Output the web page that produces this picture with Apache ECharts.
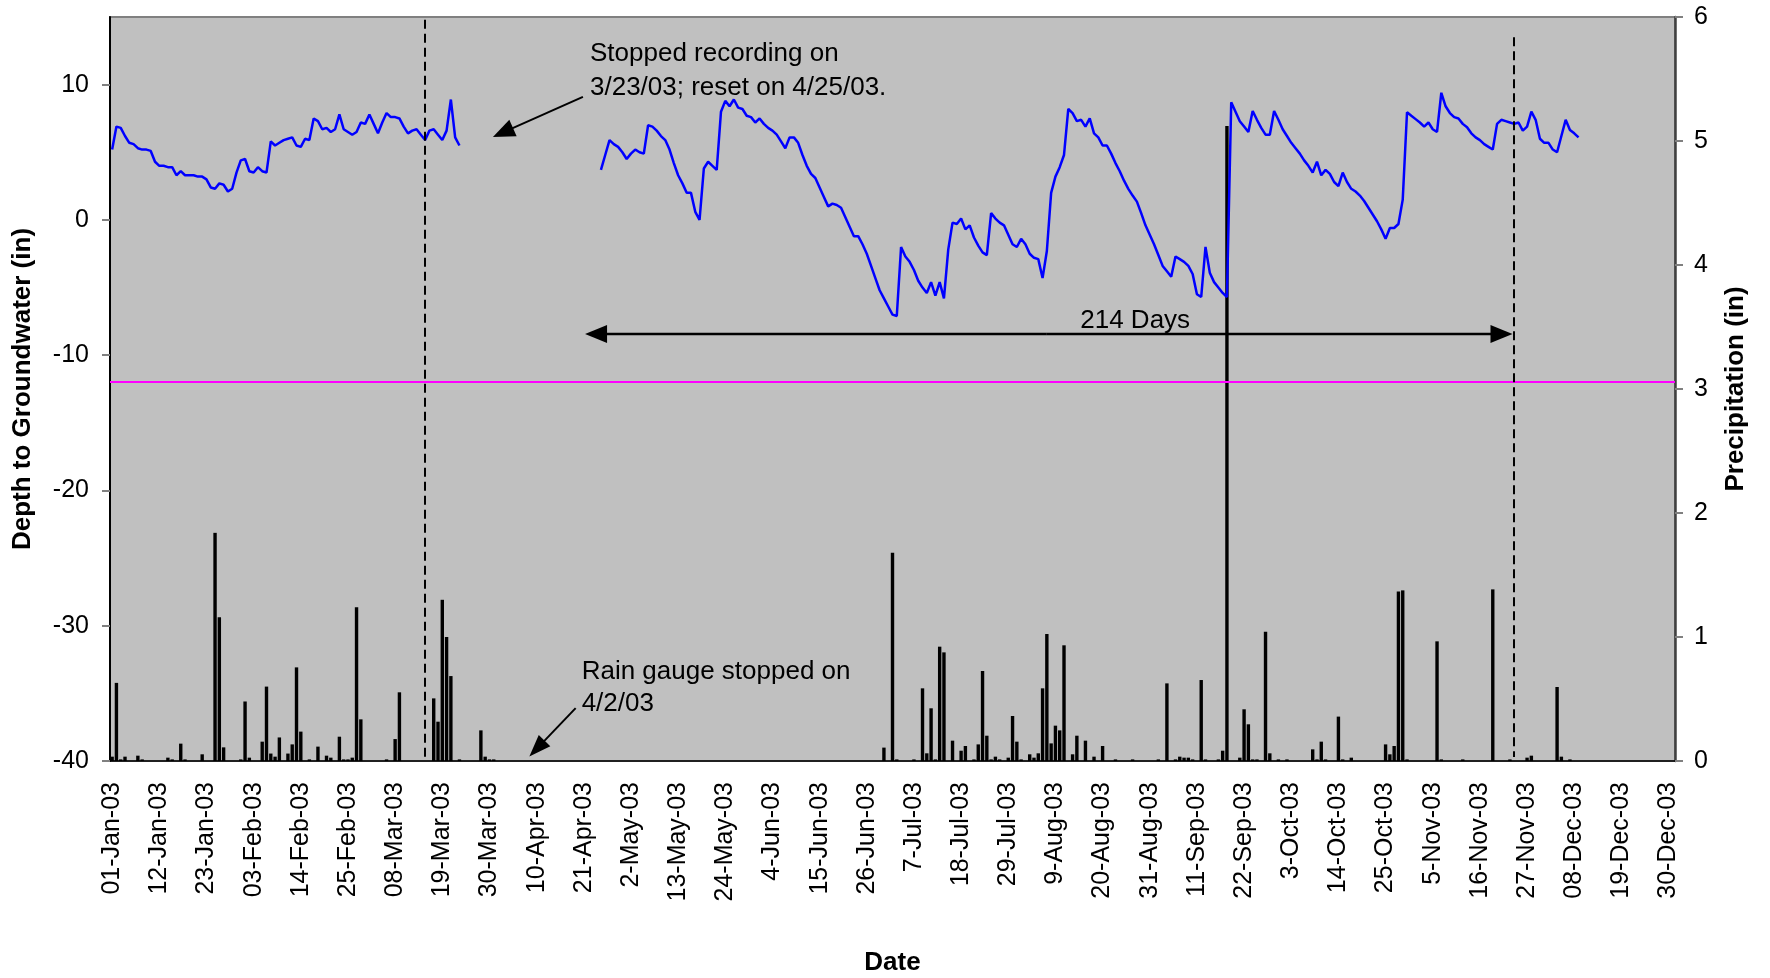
<!DOCTYPE html>
<html><head><meta charset="utf-8">
<script src="https://cdn.jsdelivr.net/npm/echarts@6/dist/echarts.min.js"></script>
<style>html,body{margin:0;padding:0;background:#fff}#c{width:1770px;height:978px}</style>
</head><body><div id="c"></div>
<script>
// ---------- DATA ----------
const monthNames = ['Jan','Feb','Mar','Apr','May','Jun','Jul','Aug','Sep','Oct','Nov','Dec'];
const monthDays = [31,28,31,30,31,30,31,31,30,31,30,31];
const tickLabels = ['01-Jan-03','12-Jan-03','23-Jan-03','03-Feb-03','14-Feb-03','25-Feb-03','08-Mar-03','19-Mar-03','30-Mar-03','10-Apr-03','21-Apr-03','2-May-03','13-May-03','24-May-03','4-Jun-03','15-Jun-03','26-Jun-03','7-Jul-03','18-Jul-03','29-Jul-03','9-Aug-03','20-Aug-03','31-Aug-03','11-Sep-03','22-Sep-03','3-Oct-03','14-Oct-03','25-Oct-03','5-Nov-03','16-Nov-03','27-Nov-03','08-Dec-03','19-Dec-03','30-Dec-03'];
const leftTicks = [-40,-30,-20,-10,0,10];

// groundwater depth, Jan 1 .. Mar 23 (day index 0..81)
const gwStart1 = 0;
const gw1 = [5.2,6.9,6.8,6.2,5.7,5.6,5.3,5.2,5.2,5.1,4.3,4.0,4.0,3.9,3.9,3.3,3.6,3.3,3.3,3.3,
  3.2,3.2,3.0,2.4,2.3,2.7,2.6,2.1,2.3,3.5,4.4,4.5,3.6,3.5,3.9,3.6,3.5,5.8,5.5,5.7,
  5.9,6.0,6.1,5.5,5.4,6.0,5.9,7.5,7.3,6.7,6.8,6.5,6.7,7.8,6.7,6.5,6.3,6.5,7.2,7.1,
  7.8,7.1,6.4,7.2,7.9,7.6,7.6,7.5,6.9,6.4,6.6,6.7,6.3,5.9,6.6,6.7,6.3,5.9,6.6,8.9,
  6.1,5.5];
// groundwater depth, Apr 25 .. Dec 9 (day index 114..342)
const gwStart2 = 114;
const gw2 = [3.7,4.8,5.9,5.6,5.4,5.0,4.5,4.9,5.2,5.0,4.9,7.0,6.9,6.6,6.2,5.9,5.2,4.2,3.3,2.7,
  2.0,2.0,0.6,0.0,3.8,4.3,4.0,3.7,8.0,8.8,8.4,8.9,8.3,8.2,7.7,7.6,7.2,7.5,7.1,6.8,
  6.6,6.3,5.8,5.3,6.1,6.1,5.7,4.8,4.0,3.4,3.1,2.4,1.7,1.0,1.2,1.1,0.9,0.2,-0.5,-1.2,
  -1.2,-1.8,-2.5,-3.4,-4.3,-5.2,-5.8,-6.4,-7.0,-7.1,-2.0,-2.7,-3.1,-3.7,-4.5,-5.0,-5.4,-4.6,-5.6,-4.6,
  -5.8,-2.2,-0.2,-0.3,0.1,-0.7,-0.4,-1.3,-1.9,-2.4,-2.6,0.5,0.1,-0.2,-0.4,-1.1,-1.8,-2.0,-1.4,-1.8,
  -2.5,-2.8,-2.9,-4.3,-2.3,2.0,3.2,3.9,4.8,8.2,7.9,7.3,7.4,6.9,7.5,6.4,6.1,5.5,5.5,4.9,
  4.2,3.6,2.9,2.3,1.8,1.35,0.5,-0.4,-1.1,-1.8,-2.6,-3.4,-3.8,-4.2,-2.7,-2.9,-3.1,-3.4,-4.0,-5.5,
  -5.7,-2.0,-3.9,-4.6,-5.0,-5.4,-5.7,8.7,8.0,7.3,6.9,6.5,8.05,7.4,6.8,6.3,6.3,8.05,7.4,6.7,
  6.2,5.7,5.3,4.9,4.4,4.0,3.5,4.3,3.3,3.7,3.4,2.8,2.5,3.5,2.8,2.3,2.1,1.8,1.4,0.9,
  0.4,-0.1,-0.7,-1.4,-0.6,-0.6,-0.3,1.5,7.96,7.7,7.45,7.2,6.9,7.2,6.7,6.5,9.4,8.4,7.9,7.6,
  7.5,7.1,6.85,6.4,6.1,5.9,5.6,5.4,5.2,7.1,7.4,7.3,7.2,7.1,7.2,6.6,6.9,8.0,7.4,6.0,
  5.7,5.7,5.2,5.0,6.2,7.4,6.65,6.4,6.1];

// daily precipitation (in): day index and amount
const rainDays = [0,1,2,3,6,7,13,14,16,17,21,24,25,26,30,31,32,35,36,37,38,39,41,42,43,44,46,48,50,51,53,54,55,56,57,58,64,66,67,75,76,77,78,79,81,86,87,88,89,
  180,182,183,187,189,190,191,192,193,194,196,198,199,201,202,203,204,205,206,207,209,210,211,212,214,215,216,217,218,219,220,221,222,224,225,227,229,231,234,238,244,246,248,249,250,251,252,254,255,258,259,260,263,264,265,266,267,269,270,272,274,280,281,282,283,286,287,289,297,298,299,300,301,302,309,310,315,322,326,330,331,337,338,340];
const rainAmounts = [0.035,0.63,0.013,0.035,0.043,0.013,0.027,0.013,0.14,0.013,0.054,1.84,1.16,0.11,0.013,0.48,0.027,0.156,0.60,0.06,0.035,0.19,0.06,0.134,0.755,0.237,0.013,0.116,0.043,0.027,0.196,0.013,0.013,0.027,1.24,0.336,0.013,0.177,0.554,0.505,0.317,1.30,1.00,0.685,0.013,0.247,0.035,0.013,0.013,
  0.108,1.68,0.013,0.013,0.586,0.062,0.425,0.013,0.922,0.876,0.164,0.083,0.121,0.013,0.134,0.726,0.204,0.013,0.035,0.013,0.027,0.363,0.156,0.013,0.054,0.027,0.062,0.586,1.024,0.142,0.285,0.247,0.933,0.054,0.204,0.164,0.035,0.121,0.013,0.013,0.013,0.626,0.013,0.035,0.027,0.027,0.013,0.653,0.013,0.013,0.083,5.12,0.027,0.417,0.296,0.013,0.013,1.043,0.062,0.013,0.013,0.094,0.013,0.156,0.013,0.358,0.013,0.027,0.134,0.054,0.121,1.366,1.376,0.013,0.965,0.013,0.013,1.384,0.013,0.027,0.043,0.597,0.035,0.013];

const thresholdDepth = -12;

// ---------- BUILD ----------
const categories = [];
monthNames.forEach((m, mi) => { for (let d = 1; d <= monthDays[mi]; d++) categories.push(d + '-' + m + '-03'); });
const N = categories.length;
const gwData = new Array(N).fill(null);
gw1.forEach((v, i) => gwData[gwStart1 + i] = v);
gw2.forEach((v, i) => gwData[gwStart2 + i] = v);
const rainData = new Array(N).fill(null);
rainDays.forEach((d, i) => rainData[d] = rainAmounts[i]);

const FONT = "'Liberation Sans', Arial, Helvetica, sans-serif";
const chart = echarts.init(document.getElementById('c'), null, {renderer: 'canvas'});

chart.setOption({
  animation: false,
  backgroundColor: '#ffffff',
  textStyle: {fontFamily: FONT, color: '#000'},
  grid: {left: 110, right: 95, top: 17, bottom: 217, show: true, backgroundColor: '#C0C0C0',
         borderColor: '#808080', borderWidth: 2, containLabel: false, outerBoundsMode: 'none'},
  xAxis: {
    type: 'category', data: categories, boundaryGap: true,
    name: 'Date', nameLocation: 'middle', nameGap: 189,
    nameTextStyle: {fontSize: 26, fontWeight: 'bold', fontFamily: FONT, color: '#000'},
    axisLine: {onZero: false, lineStyle: {color: '#000', width: 1.5}},
    axisTick: {interval: 0, length: 7, lineStyle: {color: '#000', width: 1}},
    axisLabel: {interval: 10, rotate: 90, margin: 21, fontSize: 25, fontFamily: FONT, color: '#000',
                formatter: (v, i) => tickLabels[i / 11]},
    splitLine: {show: false}
  },
  yAxis: [{
    type: 'value', min: -40, max: 15, interval: 10, position: 'left',
    name: 'Depth to Groundwater (in)', nameLocation: 'middle', nameGap: 74,
    nameTextStyle: {fontSize: 26, fontWeight: 'bold', fontFamily: FONT, color: '#000'},
    axisLine: {show: true, lineStyle: {color: '#000', width: 2}},
    axisTick: {show: true, length: 8, customValues: leftTicks, lineStyle: {color: '#808080', width: 2}},
    axisLabel: {margin: 21, fontSize: 25, fontFamily: FONT, color: '#000', customValues: leftTicks},
    splitLine: {show: false}
  }, {
    type: 'value', min: 0, max: 6, interval: 1, position: 'right',
    name: 'Precipitation (in)', nameLocation: 'middle', nameGap: 48,
    nameTextStyle: {fontSize: 26, fontWeight: 'bold', fontFamily: FONT, color: '#000'},
    axisLine: {show: true, lineStyle: {color: '#404040', width: 2.5}},
    axisTick: {show: true, length: 8, lineStyle: {color: '#808080', width: 2}},
    axisLabel: {margin: 19, fontSize: 25, fontFamily: FONT, color: '#000'},
    splitLine: {show: false}
  }],
  series: [{
    type: 'bar', name: 'Precipitation', xAxisIndex: 0, yAxisIndex: 1, data: rainData,
    barWidth: 3.4, itemStyle: {color: '#000'}, silent: true
  }, {
    type: 'line', name: 'Depth', xAxisIndex: 0, yAxisIndex: 0, data: gwData,
    showSymbol: false, connectNulls: false, lineStyle: {color: '#0000FF', width: 2.5}, itemStyle: {color: '#0000FF'},
    silent: true,
    markLine: {
      silent: true, symbol: 'none', label: {show: false}, animation: false,
      data: [
        {yAxis: thresholdDepth, lineStyle: {color: '#FF00FF', width: 2, type: 'solid'}},
        [{coord: [73, 14.8], lineStyle: {color: '#000', width: 2, type: [9, 5]}}, {coord: [73, -39.7]}],
        [{coord: [327, 13.5], lineStyle: {color: '#000', width: 2, type: [9, 5]}}, {coord: [327, -39.7]}]
      ]
    }
  }]
});

// ---------- ANNOTATIONS (anchored to data coordinates) ----------
function px(i, v) {
  const f = Math.floor(i);
  const a = chart.convertToPixel({xAxisIndex: 0, yAxisIndex: 0}, [f, v]);
  const b = chart.convertToPixel({xAxisIndex: 0, yAxisIndex: 0}, [f + 1, v]);
  return [a[0] + (b[0] - a[0]) * (i - f), a[1]];
}
function arrow(p0, p1, headLen, headW, lw) {
  const dx = p1[0] - p0[0], dy = p1[1] - p0[1], L = Math.hypot(dx, dy);
  const ux = dx / L, uy = dy / L, nx = -uy, ny = ux;
  const bx = p1[0] - ux * headLen, by = p1[1] - uy * headLen;
  return [
    {type: 'line', z: 100, silent: true, shape: {x1: p0[0], y1: p0[1], x2: bx + ux, y2: by + uy}, style: {stroke: '#000', lineWidth: lw}},
    {type: 'polygon', z: 100, silent: true, shape: {points: [[p1[0], p1[1]], [bx + nx * headW / 2, by + ny * headW / 2], [bx - nx * headW / 2, by - ny * headW / 2]]}, style: {fill: '#000'}}
  ];
}
function label(text, p, align) {
  return {type: 'text', z: 100, silent: true, x: p[0], y: p[1],
    style: {text: text, fontSize: 26, fontFamily: FONT, fill: '#000', align: align, verticalAlign: 'middle'}};
}
const g = [];
// "Stopped recording" note and arrow
g.push(label('Stopped recording on', px(111.45, 12.27), 'left'));
g.push(label('3/23/03; reset on 4/25/03.', px(111.45, 9.76), 'left'));
g.push(...arrow(px(109.8, 9.09), px(88.8, 6.13), 22, 18, 2));
// 214 days span
const mid = px(218, -8.43);
g.push(...arrow(mid, px(110.3, -8.43), 22, 18, 2.5));
g.push(...arrow(mid, px(326.6, -8.43), 22, 18, 2.5));
g.push(label('214 Days', px(238.6, -7.46), 'center'));
// rain gauge note
g.push(label('Rain gauge stopped on', px(109.5, -33.4), 'left'));
g.push(label('4/2/03', px(109.5, -35.8), 'left'));
g.push(...arrow(px(108.1, -36.09), px(97.3, -39.67), 22, 16, 2));
chart.setOption({graphic: g});
</script></body></html>
